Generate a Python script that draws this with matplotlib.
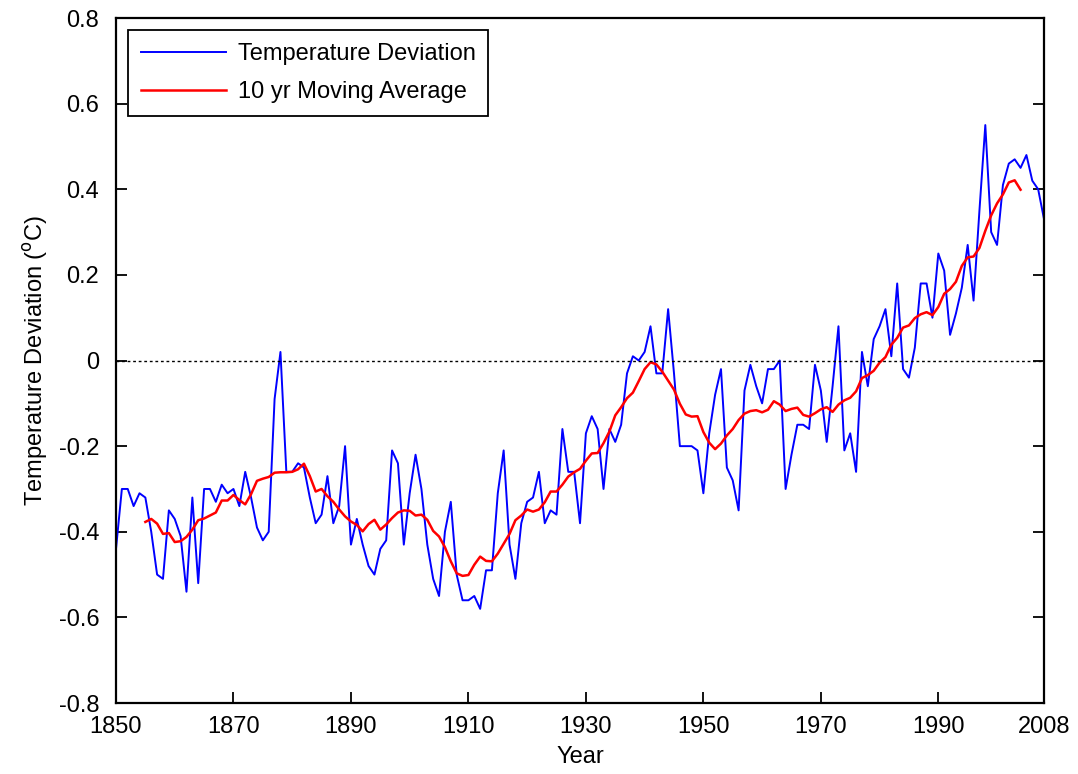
#!/usr/bin/env python3
import matplotlib
matplotlib.use("Agg")
import matplotlib.pyplot as plt
import numpy as np

years = np.arange(1850, 2009)
temps = [
    -0.44, -0.30, -0.30, -0.34, -0.31, -0.32, -0.40, -0.50, -0.51, -0.35,
    -0.37, -0.41, -0.54, -0.32, -0.52, -0.30, -0.30, -0.33, -0.29, -0.31,
    -0.30, -0.34, -0.26, -0.32, -0.39, -0.42, -0.40, -0.09, 0.02, -0.26,
    -0.26, -0.24, -0.25, -0.32, -0.38, -0.36, -0.27, -0.38, -0.34, -0.20,
    -0.43, -0.37, -0.43, -0.48, -0.50, -0.44, -0.42, -0.21, -0.24, -0.43,
    -0.31, -0.22, -0.30, -0.43, -0.51, -0.55, -0.40, -0.33, -0.50, -0.56,
    -0.56, -0.55, -0.58, -0.49, -0.49, -0.31, -0.21, -0.43, -0.51, -0.38,
    -0.33, -0.32, -0.26, -0.38, -0.35, -0.36, -0.16, -0.26, -0.26, -0.38,
    -0.17, -0.13, -0.16, -0.30, -0.16, -0.19, -0.15, -0.03, 0.01, 0.00,
    0.02, 0.08, -0.03, -0.03, 0.12, -0.03, -0.20, -0.20, -0.20, -0.21,
    -0.31, -0.17, -0.08, -0.02, -0.25, -0.28, -0.35, -0.07, -0.01, -0.06,
    -0.10, -0.02, -0.02, 0.00, -0.30, -0.22, -0.15, -0.15, -0.16, -0.01,
    -0.07, -0.19, -0.06, 0.08, -0.21, -0.17, -0.26, 0.02, -0.06, 0.05,
    0.08, 0.12, 0.01, 0.18, -0.02, -0.04, 0.03, 0.18, 0.18, 0.10,
    0.25, 0.21, 0.06, 0.11, 0.17, 0.27, 0.14, 0.35, 0.55, 0.30,
    0.27, 0.41, 0.46, 0.47, 0.45, 0.48, 0.42, 0.40, 0.33,
]
temps = np.array(temps)

# 10 yr moving average, plotted at year i+5
window = 10
ma = np.convolve(temps, np.ones(window) / window, mode="valid")
ma_years = years[:len(ma)] + 5

plt.rcParams['font.family'] = ['Liberation Sans', 'DejaVu Sans']
fig = plt.figure(figsize=(10.78, 7.74), dpi=100)
ax = fig.add_axes([0.1076, 0.0917, 0.8609, 0.885])

ax.plot(years, temps, color="#0000ff", lw=1.4, label="Temperature Deviation")
ax.plot(ma_years, ma, color="#ff0000", lw=1.8, label="10 yr Moving Average")
ax.axhline(0, color="black", ls=(0, (2, 2)), lw=1)

ax.set_xlim(1850, 2008)
ax.set_ylim(-0.8, 0.8)
ax.set_xticks([1850, 1870, 1890, 1910, 1930, 1950, 1970, 1990, 2008])
ax.set_yticks(np.arange(-0.8, 0.81, 0.2))
ax.set_yticklabels(["-0.8", "-0.6", "-0.4", "-0.2", "0", "0.2", "0.4", "0.6", "0.8"])
ax.tick_params(direction="in", length=8, width=1.3, top=False, right=True,
               labelsize=17)
ax.tick_params(axis="y", pad=12)
ax.tick_params(axis="x", pad=9)
for s in ax.spines.values():
    s.set_linewidth(1.6)
ax.set_xlabel("Year", fontsize=17, labelpad=6)
ax.set_ylabel("Temperature Deviation ($^{\\rm o}$C)", fontsize=17, labelpad=6)

leg = ax.legend(loc="upper left", fontsize=17, fancybox=False, framealpha=1,
                edgecolor="black", handlelength=3.6, handletextpad=0.5,
                borderaxespad=0.5, borderpad=0.55, labelspacing=0.7)
leg.get_frame().set_linewidth(1.3)

fig.savefig("out.png", dpi=100)
